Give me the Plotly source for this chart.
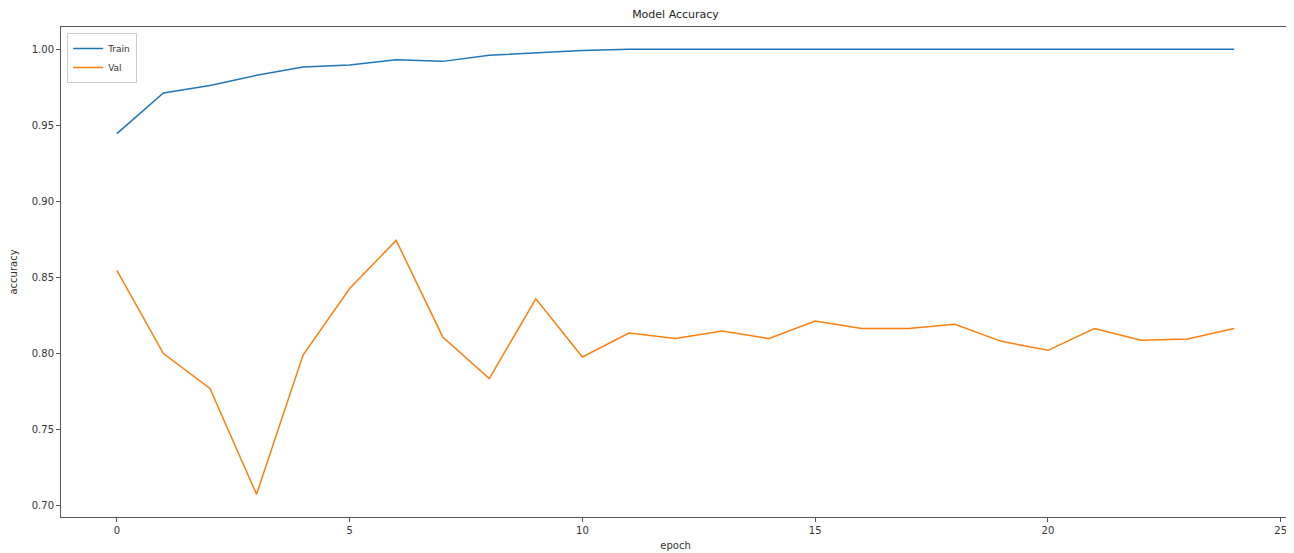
import plotly.graph_objects as go

epochs = list(range(25))
train_acc = [0.9446, 0.9713, 0.9763, 0.9829, 0.9884, 0.9897, 0.9932, 0.9921, 0.9961, 0.9977,
             0.9992, 1.0, 1.0, 1.0, 1.0, 1.0, 1.0, 1.0, 1.0, 1.0, 1.0, 1.0, 1.0, 1.0, 1.0]
val_acc = [0.8547, 0.8000, 0.7770, 0.7075, 0.7990, 0.8427, 0.8744, 0.8109, 0.7835, 0.8360,
           0.7977, 0.8135, 0.8098, 0.8148, 0.8098, 0.8214, 0.8164, 0.8164, 0.8192, 0.8080,
           0.8021, 0.8164, 0.8087, 0.8095, 0.8164]
x_ticks = [0, 5, 10, 15, 20, 25]
y_ticks = [0.70, 0.75, 0.80, 0.85, 0.90, 0.95, 1.00]

fig = go.Figure()
fig.add_trace(go.Scatter(x=epochs, y=train_acc, mode="lines", name="Train",
                         line=dict(color="#1f77b4", width=1.5)))
fig.add_trace(go.Scatter(x=epochs, y=val_acc, mode="lines", name="Val",
                         line=dict(color="#ff7f0e", width=1.5)))

axis_common = dict(showgrid=False, zeroline=False, showline=True, linecolor="#555555",
                   linewidth=1, mirror=True, ticks="outside", ticklen=4, tickwidth=1,
                   tickcolor="#555555", automargin=False,
                   tickfont=dict(family="DejaVu Sans", size=10, color="#333333"))

W, H = 1286, 545
fig.update_layout(
    width=W, height=H,
    margin=dict(l=53, r=4, t=19, b=36),
    paper_bgcolor="white", plot_bgcolor="white",
    title=dict(text="Model Accuracy", x=0.5, xref="paper", y=1 - 6 / H, yref="container",
               yanchor="middle",
               font=dict(family="DejaVu Sans", size=11, color="#222222")),
    xaxis=dict(range=[-1.2, 25.2], tickvals=x_ticks,
               title=dict(text="epoch", standoff=6, font=dict(family="DejaVu Sans", size=10, color="#333333")),
               **axis_common),
    yaxis=dict(range=[0.6925, 1.0147], tickvals=y_ticks, tickformat=".2f",
               title=dict(text="accuracy", standoff=14, font=dict(family="DejaVu Sans", size=10, color="#333333")),
               **axis_common),
    legend=dict(x=0.005, y=0.988, xanchor="left", yanchor="top", bgcolor="rgba(255,255,255,0.8)",
                bordercolor="#cccccc", borderwidth=1, itemwidth=30,
                font=dict(family="DejaVu Sans", size=9, color="#333333"), tracegroupgap=0),
    showlegend=True,
)

fig.write_html("out.html")
